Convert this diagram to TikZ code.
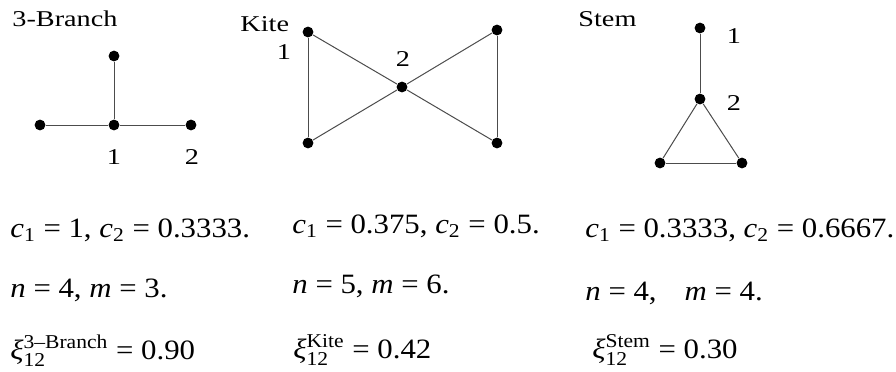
\documentclass[tikz,border=0pt]{standalone}
\usepackage{fontspec}
\setmainfont{Liberation Serif}[FakeStretch=1.25]
\newfontfamily\eqfont{Liberation Serif}[FakeStretch=1.1]
\usepackage{amsmath}

\begin{document}
\begin{tikzpicture}[
  x=0.5pt, y=-0.5pt,
  vtx/.style={circle, fill=black, inner sep=0pt, minimum size=5.4pt},
  link/.style={draw=black!70, line width=0.5pt},
  heading/.style={anchor=base west, inner sep=0pt, font=\fontsize{11.3}{13}\selectfont},
  lbl/.style={anchor=base, inner sep=0pt, font=\fontsize{11.3}{13}\selectfont},
  eqn/.style={anchor=base west, inner sep=0pt, font=\eqfont\fontsize{14}{16}\selectfont}
]
\useasboundingbox (0,0) rectangle (896,371);

% 3-Branch
\node[heading] (branchname) at (12,26) {3-Branch};
\node[vtx] (bt) at (114,56) {};
\node[vtx] (bl) at (40,125) {};
\node[vtx] (bc) at (114,125) {};
\node[vtx] (br) at (191,125) {};
\node[lbl] (bone) at (114,164) {1};
\node[lbl] (btwo) at (192,164) {2};
\draw[link] (bt) -- (bc);
\draw[link] (bl) -- (bc);
\draw[link] (bc) -- (br);

% Kite
\node[heading] (kitename) at (240,31) {Kite};
\node[vtx] (ktl) at (308,32) {};
\node[vtx] (kbl) at (308,143) {};
\node[vtx] (kc) at (402,87) {};
\node[vtx] (ktr) at (497,30) {};
\node[vtx] (kbr) at (497,143) {};
\node[lbl] (kone) at (284,59) {1};
\node[lbl] (ktwo) at (403,66) {2};
\draw[link] (ktl) -- (kbl);
\draw[link] (ktl) -- (kc);
\draw[link] (kbl) -- (kc);
\draw[link] (kc) -- (ktr);
\draw[link] (kc) -- (kbr);
\draw[link] (ktr) -- (kbr);

% Stem
\node[heading] (stemname) at (578,26) {Stem};
\node[vtx] (st) at (700,28) {};
\node[vtx] (sm) at (700,99) {};
\node[vtx] (sl) at (660,163) {};
\node[vtx] (sr) at (742,163) {};
\node[lbl] (sone) at (734,43) {1};
\node[lbl] (stwo) at (734,110) {2};
\draw[link] (st) -- (sm);
\draw[link] (sm) -- (sl);
\draw[link] (sm) -- (sr);
\draw[link] (sl) -- (sr);

% values
\node[eqn] (bc12) at (10,237) {\textit{c}\textsubscript{1} = 1, \textit{c}\textsubscript{2} = 0.3333.};
\node[eqn] (bnm) at (10,297) {\textit{n} = 4, \textit{m} = 3.};
\node[eqn] (bxi) at (10,359) {\textit{ξ}${}^{\text{3–Branch}}_{\text{12}}$ = 0.90};
\node[eqn] (kc12) at (292,233) {\textit{c}\textsubscript{1} = 0.375, \textit{c}\textsubscript{2} = 0.5.};
\node[eqn] (knm) at (292,293) {\textit{n} = 5, \textit{m} = 6.};
\node[eqn] (kxi) at (293,358) {\textit{ξ}${}^{\text{Kite}}_{\text{12}}$ = 0.42};
\node[eqn] (sc12) at (585,237) {\textit{c}\textsubscript{1} = 0.3333, \textit{c}\textsubscript{2} = 0.6667.};
\node[eqn] (snm) at (585,300) {\textit{n} = 4,\quad \textit{m} = 4.};
\node[eqn] (sxi) at (592,358) {\textit{ξ}${}^{\text{Stem}}_{\text{12}}$ = 0.30};
\end{tikzpicture}
\end{document}
